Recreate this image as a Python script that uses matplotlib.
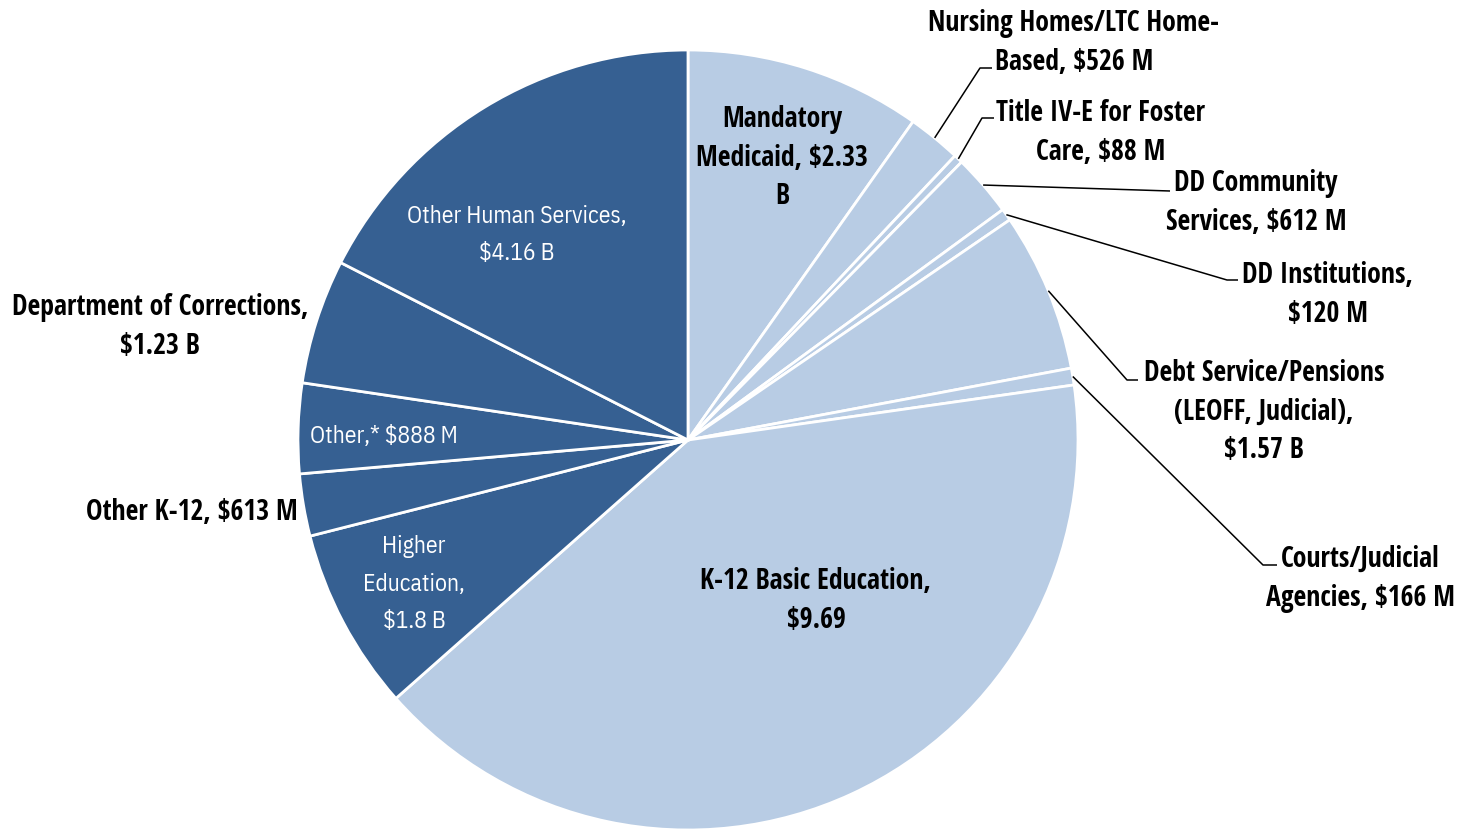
import numpy as np
import matplotlib
matplotlib.use('Agg')
import matplotlib.pyplot as plt

BOLD_FONT = ['Open Sans Condensed', 'DejaVu Sans']
REG_FONT = ['IBM Plex Sans Condensed', 'DejaVu Sans']

# DATA (billions of dollars), clockwise from 12 o'clock
categories = [
    'Mandatory Medicaid', 'Nursing Homes/LTC Home-Based', 'Title IV-E for Foster Care',
    'DD Community Services', 'DD Institutions', 'Debt Service/Pensions',
    'Courts/Judicial Agencies', 'K-12 Basic Education', 'Higher Education',
    'Other K-12', 'Other', 'Department of Corrections', 'Other Human Services',
]
values = [2.33, 0.526, 0.088, 0.612, 0.120, 1.57, 0.166, 9.69, 1.8, 0.613, 0.888, 1.23, 4.16]
groups = ['light'] * 8 + ['dark'] * 5

labels = [
    'Mandatory\nMedicaid, $2.33\nB',
    'Nursing Homes/LTC Home-\nBased, $526 M',
    'Title IV-E for Foster\nCare, $88 M',
    'DD Community\nServices, $612 M',
    'DD Institutions,\n$120 M',
    'Debt Service/Pensions\n(LEOFF, Judicial),\n$1.57 B',
    'Courts/Judicial\nAgencies, $166 M',
    'K-12 Basic Education,\n$9.69',
    'Higher\nEducation,\n$1.8 B',
    'Other K-12, $613 M',
    'Other,* $888 M',
    'Department of Corrections,\n$1.23 B',
    'Other Human Services,\n$4.16 B',
]

LIGHT = '#B8CCE4'
DARK = '#366092'

CX, CY, R = 688, 440, 390

# label layout: (x, y) centre of text block, bold?, colour, leader elbow (or None)
layout = [
    ((782, 158), True, 'black', None),
    ((1074, 43), True, 'black', [(980, 68), (992, 68)]),
    ((1101, 133), True, 'black', [(982, 118), (994, 118)]),
    ((1256, 203), True, 'black', [(1170, 191)]),
    ((1328, 295), True, 'black', [(1227, 280), (1238, 280)]),
    ((1264, 412), True, 'black', [(1127, 380), (1138, 380)]),
    ((1360, 579), True, 'black', [(1263, 565), (1277, 565)]),
    ((816, 601), True, 'black', None),
    ((414, 584), False, 'white', None),
    ((192, 513), True, 'black', None),
    ((384, 437), False, 'white', None),
    ((160, 327), True, 'black', None),
    ((517, 235), False, 'white', None),
]


def main():

    fig = plt.figure(figsize=(14.64, 8.31), dpi=100)
    ax = fig.add_axes([0, 0, 1, 1])

    colors = [LIGHT if g == 'light' else DARK for g in groups]

    # y axis runs downward (pixel-like), so counterclock=True draws clockwise on screen
    wedges, _ = ax.pie(
        values,
        colors=colors,
        startangle=-90,
        counterclock=True,
        radius=R,
        center=(CX, CY),
        wedgeprops=dict(edgecolor='white', linewidth=2),
        frame=True,
    )

    ax.set_xlim(0, 1464)
    ax.set_ylim(831, 0)
    ax.set_aspect('equal')
    ax.axis('off')

    for w, lab, (pos, bold, col, elbow) in zip(wedges, labels, layout):

        ax.text(
            pos[0], pos[1], lab,
            ha='center', va='center', multialignment='center',
            fontsize=20 if bold else 17,
            family=BOLD_FONT if bold else REG_FONT,
            fontweight='bold' if bold else 'normal',
            color=col, linespacing=1.45 if bold else 1.8,
        )

        if elbow is not None:
            mid = np.radians((w.theta1 + w.theta2) / 2)
            x0 = CX + R * np.cos(mid)
            y0 = CY + R * np.sin(mid)
            xs = [x0] + [p[0] for p in elbow]
            ys = [y0] + [p[1] for p in elbow]
            ax.plot(xs, ys, color='black', linewidth=1.1, solid_capstyle='butt')

    plt.savefig('out.png', dpi=100)
    plt.close()


if __name__ == "__main__":
    main()
